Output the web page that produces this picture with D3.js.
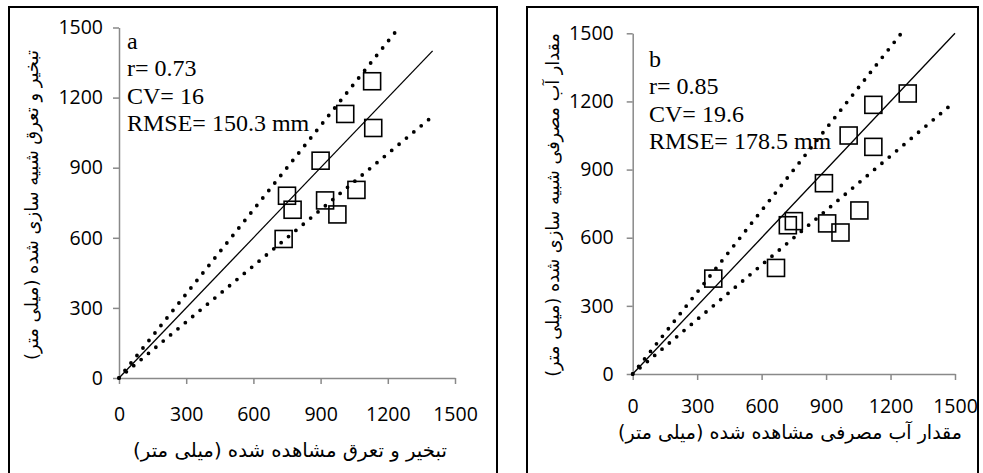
<!DOCTYPE html>
<html>
<head>
<meta charset="utf-8">
<script src="https://cdn.jsdelivr.net/npm/d3@7"></script>
<style>
  body { margin: 0; background: #fff; }
  svg { display: block; }
  .fa { font-family: "DejaVu Sans", sans-serif; }
  .stat { font-family: "Liberation Serif", serif; font-size: 24px; }
</style>
</head>
<body>
<script>
// chart values
var ticks = [0, 300, 600, 900, 1200, 1500];

var obsA = [1130, 1010, 1135, 900, 750, 775, 920, 975, 1060, 735];
var simA = [1270, 1130, 1070, 930, 780, 720, 760, 700, 805, 595];

var obsB = [1280, 1120, 1005, 1120, 890, 1055, 722, 750, 905, 967, 667, 375];
var simB = [1235, 1185, 1050, 1000, 840, 720, 655, 673, 663, 623, 467, 420];

var statsA = ["a", "r= 0.73", "CV= 16", "RMSE= 150.3 mm"];
var statsB = ["b", "r= 0.85", "CV= 19.6", "RMSE= 178.5 mm"];

// fitted lines: [slope, end x]
var linesA = { solid: [1, 1400], upper: [1.2, 1250], lower: [0.8, 1385] };
var linesB = { solid: [1, 1500], upper: [1.2, 1250], lower: [0.8, 1500] };

var xTitleA = "تبخیر و تعرق مشاهده شده (میلی متر)";
var yTitleA = "تبخیر و تعرق شبیه سازی شده (میلی متر)";
var xTitleB = "مقدار آب مصرفی مشاهده شده (میلی متر)";
var yTitleB = "مقدار آب مصرفی شبیه سازی شده (میلی متر)";

var w = 983, h = 473;

var svg = d3.select("body").append("svg")
  .attr("width", w)
  .attr("height", h);

// stretch a title so it spans the given length
function title(g, txt, size, len, cx, cy, rot) {
  var t = g.append("text")
    .attr("class", "fa")
    .attr("font-size", size)
    .attr("direction", "rtl")
    .attr("text-anchor", "middle")
    .text(txt);
  var k = len / t.node().getComputedTextLength();
  t.attr("transform", "translate(" + cx + "," + cy + ")" + (rot ? " rotate(-90)" : "") + " scale(" + k + ",1)");
}

function panel(p) {
  var g = svg.append("g");

  // frame
  g.append("rect")
    .attr("x", p.frame[0]).attr("y", p.frame[1])
    .attr("width", p.frame[2] - p.frame[0]).attr("height", 500)
    .attr("fill", "none").attr("stroke", "#000").attr("stroke-width", 2);

  var x = d3.scaleLinear().domain([0, 1500]).range([p.left, p.right]);
  var y = d3.scaleLinear().domain([0, 1500]).range([p.bottom, p.top]);

  var xAxis = g.append("g")
    .attr("transform", "translate(0," + p.bottom + ")")
    .call(d3.axisBottom(x).tickValues(ticks).tickFormat(d3.format("d"))
      .tickSize(6).tickPadding(p.xPad).tickSizeOuter(0));
  var yAxis = g.append("g")
    .attr("transform", "translate(" + p.left + ",0)")
    .call(d3.axisLeft(y).tickValues(ticks).tickFormat(d3.format("d"))
      .tickSize(6).tickPadding(p.yPad).tickSizeOuter(0));

  [xAxis, yAxis].forEach(function(a) {
    a.attr("font-family", "'Open Sans', sans-serif").attr("font-size", 19.5);
    a.select(".domain").attr("stroke", "#898989").attr("stroke-width", 1.5);
    a.selectAll(".tick line").attr("stroke", "#898989").attr("stroke-width", 1.5);
    a.selectAll(".tick text").attr("fill", "#000");
  });
  xAxis.selectAll(".tick text").attr("dy", "0.71em");

  function fit(l, dotted) {
    g.append("line")
      .attr("x1", x(0)).attr("y1", y(0))
      .attr("x2", x(l[1])).attr("y2", y(l[0] * l[1]))
      .attr("stroke", "#000")
      .attr("stroke-width", dotted ? 3.8 : 1.3)
      .attr("stroke-linecap", dotted ? "round" : "butt")
      .attr("stroke-dasharray", dotted ? "0,9.6" : null);
  }
  fit(p.lines.upper, true);
  fit(p.lines.lower, true);
  fit(p.lines.solid, false);

  var s = 17;
  g.selectAll("rect.pt")
    .data(p.obs)
    .enter()
    .append("rect")
    .attr("class", "pt")
    .attr("x", function(d) { return x(d) - s / 2; })
    .attr("y", function(d, i) { return y(p.sim[i]) - s / 2; })
    .attr("width", s).attr("height", s)
    .attr("fill", "none")
    .attr("stroke", "#000")
    .attr("stroke-width", 1.6);

  g.selectAll("text.stat")
    .data(p.stats)
    .enter()
    .append("text")
    .attr("class", "stat")
    .attr("x", p.statX)
    .attr("y", function(d, i) { return p.statY + i * 27.4; })
    .text(function(d) { return d; });

  title(g, p.xTitle, 19.5, p.xTitleLen, p.xTitleX, p.xTitleY, false);
  title(g, p.yTitle, 18, p.yTitleLen, p.yTitleX, 205, true);
}

panel({
  frame: [9, 7, 497],
  left: 119, right: 455, top: 27.5, bottom: 378,
  xPad: 23, yPad: 10,
  obs: obsA, sim: simA, stats: statsA, lines: linesA,
  statX: 127, statY: 49,
  xTitle: xTitleA, xTitleX: 290, xTitleY: 457, xTitleLen: 314,
  yTitle: yTitleA, yTitleX: 38, yTitleLen: 310
});

panel({
  frame: [527, 7, 978],
  left: 632.7, right: 955, top: 33.3, bottom: 374,
  xPad: 19, yPad: 13,
  obs: obsB, sim: simB, stats: statsB, lines: linesB,
  statX: 649, statY: 67,
  xTitle: xTitleB, xTitleX: 790, xTitleY: 439, xTitleLen: 344,
  yTitle: yTitleB, yTitleX: 559, yTitleLen: 344
});
</script>
</body>
</html>
